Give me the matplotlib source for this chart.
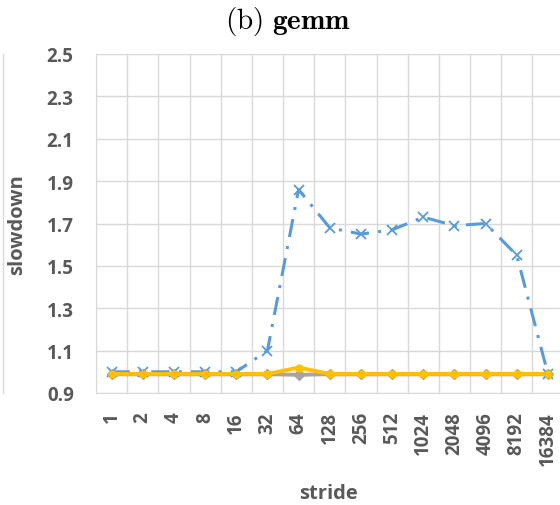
import numpy as np
import matplotlib
matplotlib.use("Agg")
import matplotlib.pyplot as plt
from matplotlib.lines import Line2D

plt.rcParams["mathtext.fontset"] = "cm"

strides = ["1", "2", "4", "8", "16", "32", "64", "128", "256", "512",
           "1024", "2048", "4096", "8192", "16384"]
blue_vals = [1.00, 1.00, 1.00, 1.00, 1.00, 1.10, 1.86, 1.68, 1.65, 1.67,
             1.73, 1.69, 1.70, 1.55, 0.99]
orange_vals = [0.99] * 15
gray_vals = [0.99, 0.99, 0.99, 0.99, 0.99, 0.99, 0.985, 0.99, 0.99, 0.99,
             0.99, 0.99, 0.99, 0.99, 0.99]
yellow_vals = [0.99, 0.99, 0.99, 0.99, 0.99, 0.99, 1.02, 0.99, 0.99, 0.99,
               0.99, 0.99, 0.99, 0.99, 0.99]
yticks = [0.9, 1.1, 1.3, 1.5, 1.7, 1.9, 2.1, 2.3, 2.5]

TXT = "#595959"
fig = plt.figure(figsize=(5.6, 5.06), dpi=100)
ax = fig.add_axes([96 / 560, 1 - 394 / 506, 467.5 / 560, 339 / 506])

x = np.arange(len(strides))
ax.plot(x, orange_vals, color="#ED7D31", lw=2.5, marker="o", ms=5, zorder=3)
ax.plot(x, gray_vals, color="#A5A5A5", lw=2.5, marker="D", ms=5, zorder=4)
ax.plot(x, blue_vals, color="#5B9BD5", lw=2.2, marker="x", ms=7, mew=1.3,
        dashes=(6, 3, 1, 3), zorder=5)
ax.plot(x, yellow_vals, color="#FFC000", lw=2.8, marker="o", ms=5, zorder=6)

ax.set_xlim(-0.5, len(strides) - 0.5)
ax.set_ylim(0.9, 2.5)
ax.set_yticks(yticks)
ax.set_yticklabels([f"{v:.1f}" for v in yticks])
ax.set_xticks(x)
ax.set_xticklabels(strides, rotation=90)
ax.set_xticks(np.arange(-0.5, len(strides), 1), minor=True)
ax.grid(True, which="minor", axis="x", color="#D9D9D9", lw=1)
ax.grid(True, which="major", axis="y", color="#D9D9D9", lw=1)
ax.tick_params(which="both", length=0)
ax.tick_params(axis="y", pad=16, labelsize=13.5, labelcolor=TXT)
ax.tick_params(axis="x", pad=13, labelsize=13.5, labelcolor=TXT)
for lab in ax.get_xticklabels() + ax.get_yticklabels():
    lab.set_fontfamily("Open Sans")
    lab.set_fontweight("bold")
for s in ax.spines.values():
    s.set_color("#D9D9D9")
ax.set_axisbelow(True)

fig.text(17 / 560, 1 - 225 / 506, "slowdown", rotation=90, ha="center",
         va="center", fontsize=14.5, color=TXT, family="Open Sans",
         fontweight="bold")
fig.text(329 / 560, 1 - 494 / 506, "stride", ha="center", va="center",
         fontsize=14.5, color=TXT, family="Open Sans", fontweight="bold")
fig.text(288 / 560, 1 - 21 / 506, r"$\mathrm{(b)}\ \mathbf{gemm}$",
         ha="center", va="center", fontsize=21, color="black")

# edge of neighbouring panel
fig.add_artist(Line2D([3 / 560, 3 / 560], [1 - 394 / 506, 1 - 55 / 506],
                      color="#D9D9D9", lw=1))

fig.savefig("out.png", dpi=100)
